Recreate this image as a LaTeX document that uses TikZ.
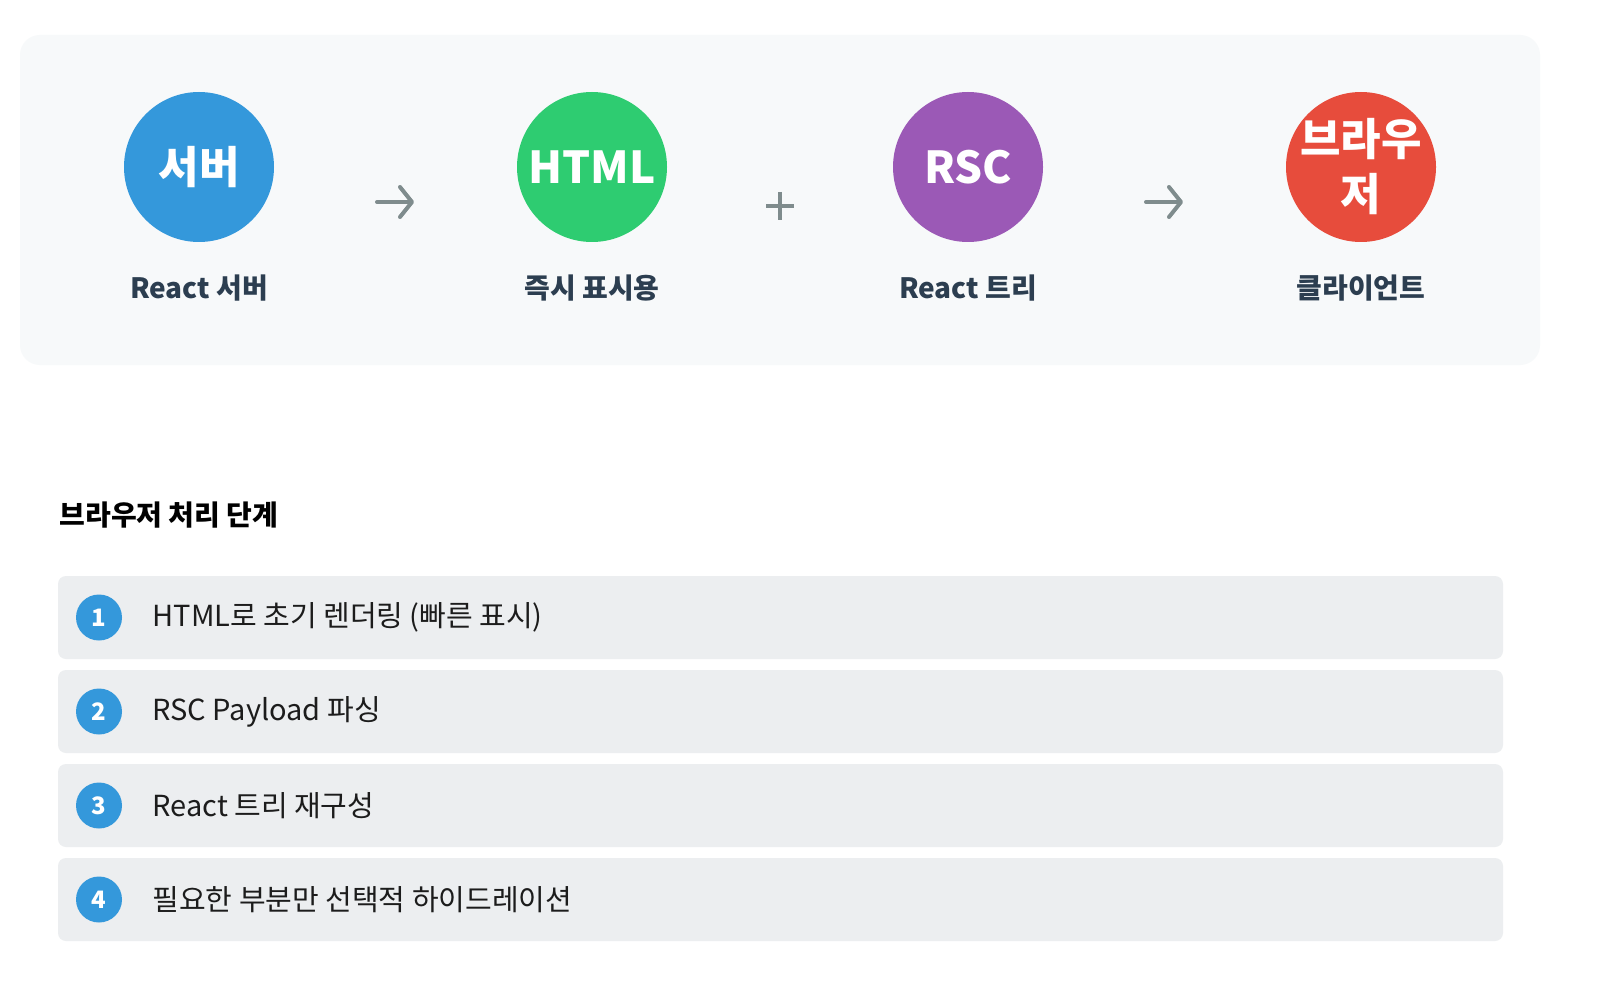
\documentclass[tikz,border=0pt]{standalone}
\usepackage{fontspec}
\setmainfont{Noto Sans CJK KR}
\usetikzlibrary{arrows.meta}
\definecolor{panelbg}{HTML}{F7F9FA}
\definecolor{rowbg}{HTML}{ECEEF0}
\definecolor{srvblue}{HTML}{3498DB}
\definecolor{htmlgreen}{HTML}{2ECC71}
\definecolor{rscpurple}{HTML}{9B59B6}
\definecolor{brwred}{HTML}{E74C3C}
\definecolor{arrowgrey}{HTML}{7F8C8D}
\definecolor{labelink}{HTML}{2C3E50}
\definecolor{rowink}{HTML}{1C1C1C}
\begin{document}
\begin{tikzpicture}[x=1pt,y=-1pt,
	bubble/.style={circle,minimum size=150pt,inner sep=-14pt,text=white,align=center,
		font=\fontsize{44}{55}\selectfont\bfseries},
	flowlabel/.style={text=labelink,font=\fontsize{28}{32}\selectfont\bfseries},
	flowarrow/.style={draw=arrowgrey,line width=4pt,line cap=round,line join=round,
		-{Straight Barb[length=12pt,width=30pt,round]}},
	numdot/.style={circle,fill=srvblue,minimum size=46pt,inner sep=0pt,text=white,
		font=\fontsize{24}{26}\selectfont\bfseries},
	steptext/.style={anchor=west,text=rowink,font=\fontsize{29}{34}\selectfont}]
		\useasboundingbox[fill=white] (0,0) rectangle (1600,1008);
		\fill [panelbg,rounded corners=20pt] (20,35) rectangle (1540,365);
		\node [bubble,fill=srvblue] (srv) at (199,167) {서버};
		\node [bubble,fill=htmlgreen] (html) at (592,167) {HTML};
		\node [bubble,fill=rscpurple] (rsc) at (968,167) {RSC};
		\node [bubble,fill=brwred] (brw) at (1361,167) {브라우\\저};
		\node [flowlabel] (srvlbl) at (199,288) {React 서버};
		\node [flowlabel] (htmllbl) at (592,288) {즉시 표시용};
		\node [flowlabel] (rsclbl) at (968,288) {React 트리};
		\node [flowlabel] (brwlbl) at (1361,288) {클라이언트};
		\coordinate (A1) at (377,202);
		\coordinate (B1) at (414,202);
		\coordinate (A2) at (1146,202);
		\coordinate (B2) at (1183,202);
		\draw [flowarrow] (A1) to (B1);
		\draw [flowarrow] (A2) to (B2);
		\draw [draw=arrowgrey,line width=4pt] (766,206) to (794,206) (780,192) to (780,220);
		\node [anchor=west,text=black,font=\fontsize{28}{32}\selectfont\bfseries] (head) at (56,515) {브라우저 처리 단계};
		\foreach \i/\txt in {1/{HTML로 초기 렌더링 (빠른 표시)},2/{RSC Payload 파싱},3/{React 트리 재구성},4/{필요한 부분만 선택적 하이드레이션}} {
			\fill [rowbg,rounded corners=8pt] (58,{576+94*(\i-1)}) rectangle ++(1445,83);
			\node [numdot] (num\i) at (99,{617.5+94*(\i-1)}) {\i};
			\node [steptext] (txt\i) at (149,{617.5+94*(\i-1)}) {\txt};
		}
	\end{tikzpicture}
\end{document}
